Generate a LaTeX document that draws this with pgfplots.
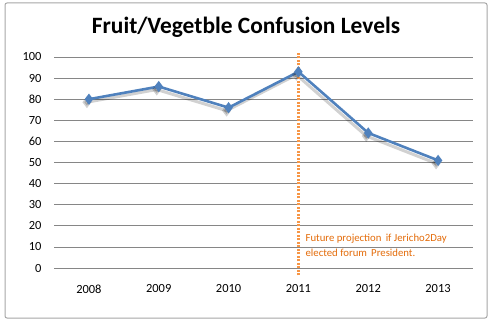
\documentclass[border=0pt]{standalone}
\usepackage{pgfplots}
\pgfplotsset{compat=1.18}
\usepackage{fontspec}
\setmainfont{Carlito}
\definecolor{lineblue}{HTML}{4F81BD}
\definecolor{projorange}{HTML}{F79646}
\definecolor{txtorange}{HTML}{E46C0A}
\definecolor{gridgray}{HTML}{868686}
\begin{document}
\begin{tikzpicture}[x=1bp,y=1bp]
\path[use as bounding box] (0,0) rectangle (494,323);
\draw[gray!70, line width=1bp, fill=white, rounded corners=2bp] (5,5) rectangle (487,320);
\node[font=\bfseries\fontsize{23.5}{26}\selectfont] at (246,296) {Fruit/Vegetble Confusion Levels};
\begin{axis}[
  at={(54bp,55bp)}, anchor=south west,
  scale only axis, width=419bp, height=211bp,
  xmin=2007.5, xmax=2013.5, ymin=0, ymax=100,
  xtick={2008,...,2013},
  xticklabels={2008,2009,2010,2011,2012,2013},
  ytick={0,10,...,100},
  ymajorgrids, grid style={gridgray, line width=0.8bp},
  axis line style={draw=none},
  major tick length=0pt,
  tick label style={font=\fontsize{12.5}{15}\selectfont},
  xticklabel style={yshift=-13bp},
  yticklabel style={xshift=-9bp},
  /pgf/number format/assume math mode=true,
  clip=false,
]
\addplot[black, opacity=0.18, line width=3bp, mark=diamond*, mark size=3.5bp, shift={(-2bp,-3bp)}] coordinates {
(2008,80) (2009,86) (2010,76) (2011,93) (2012,64) (2013,51)};
\addplot[lineblue, line width=2.6bp, mark=diamond*, mark size=3.5bp] coordinates {
(2008,80) (2009,86) (2010,76) (2011,93) (2012,64) (2013,51)};
\addplot[projorange, line width=3bp, dash pattern=on 2bp off 1.5bp] coordinates {(2011,-3.5) (2011,102)};
\node[anchor=west, align=left, text=txtorange, font=\fontsize{10.8}{15}\selectfont, inner sep=0pt] at (axis cs:2011.1,10.7) {Future projection\, if Jericho2Day\\elected forum\, President.};
\end{axis}
\end{tikzpicture}
\end{document}
